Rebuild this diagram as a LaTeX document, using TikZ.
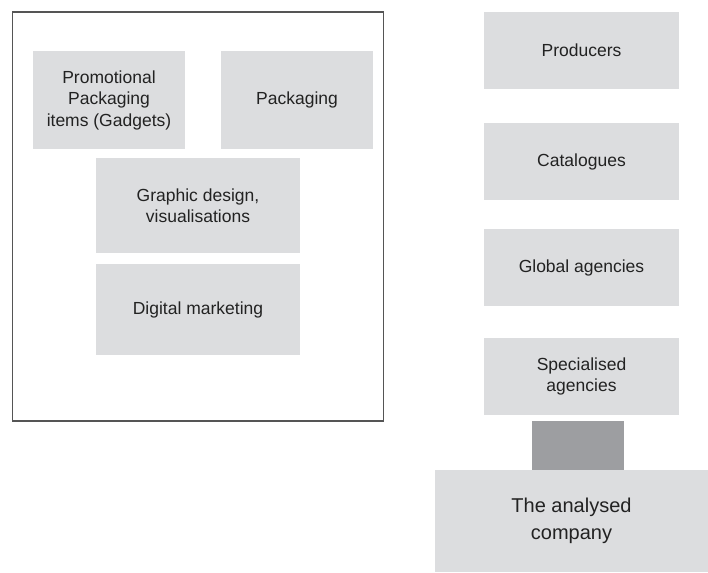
\documentclass[tikz,border=0pt]{standalone}
\usepackage{fontspec}
\setmainfont{Liberation Sans}
\usepackage{tikz}
\definecolor{boxgray}{HTML}{DCDDDF}
\definecolor{linkgray}{HTML}{9D9EA1}
\definecolor{framegray}{HTML}{555555}
\definecolor{textgray}{HTML}{222222}
\tikzstyle{graybox}=[rectangle,fill=boxgray,draw=none,inner sep=0pt,
                     align=center,text=textgray,
                     font=\fontsize{17.5}{21.5}\selectfont]
\tikzstyle{linkbox}=[rectangle,fill=linkgray,draw=none,inner sep=0pt]

\begin{document}
\begin{tikzpicture}[x=1pt,y=-1pt]
    \useasboundingbox (0,0) rectangle (708,572);
    % left frame with the offer
    \node (frame) at (198,216.5) [rectangle,draw=framegray,line width=1.3pt,
        minimum width=371pt,minimum height=409pt]{};
    \node (promo) at (109,100) [graybox,minimum width=152pt,minimum height=98pt]
        {Promotional\\Packaging\\items (Gadgets)};
    \node (pack) at (297,100) [graybox,minimum width=152pt,minimum height=98pt]
        {Packaging};
    \node (graphic) at (198,205.5) [graybox,minimum width=204pt,minimum height=95pt]
        {Graphic design,\\visualisations};
    \node (digital) at (198,309.5) [graybox,minimum width=204pt,minimum height=91pt]
        {Digital marketing};
    % right column
    \node (prod) at (581.5,50.5) [graybox,minimum width=195pt,minimum height=77pt]
        {Producers};
    \node (cat) at (581.5,161.5) [graybox,minimum width=195pt,minimum height=77pt]
        {Catalogues};
    \node (glob) at (581.5,267.5) [graybox,minimum width=195pt,minimum height=77pt]
        {Global agencies};
    \node (spec) at (581.5,376.5) [graybox,minimum width=195pt,minimum height=77pt]
        {Specialised\\agencies};
    \node (link) at (578,445.5) [linkbox,minimum width=92pt,minimum height=49pt]{};
    \node (comp) at (571.5,521) [graybox,minimum width=273pt,minimum height=102pt,
        font=\fontsize{20}{26.5}\selectfont]{The analysed\\company};
\end{tikzpicture}
\end{document}
